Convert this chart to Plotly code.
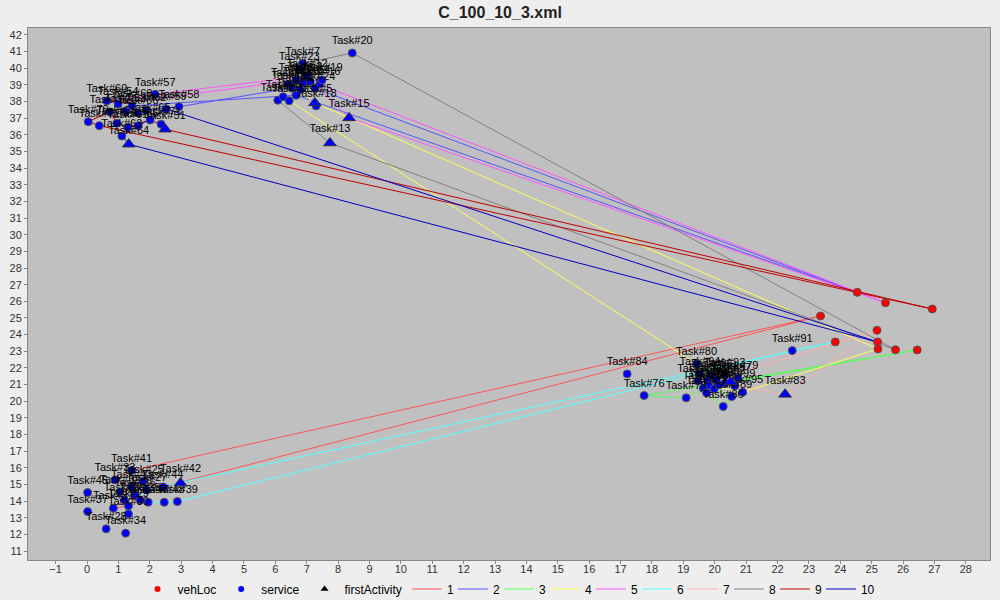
import plotly.graph_objects as go

# ---------------- data ----------------
task_ids = [20, 7, 23, 2, 12, 14, 10, 4, 8, 16, 19, 24, 17, 22, 1, 3, 9, 11, 18, 5, 15, 13,
            60, 57, 58, 59, 70, 72, 55, 53, 66, 61, 63, 56, 71, 64, 51, 52, 54, 62, 65, 68,
            41, 45, 33, 37, 28, 34, 26, 31, 29, 30, 35, 47, 48, 39, 42, 43, 25, 27, 32, 36, 44,
            91, 80, 84, 76, 78, 77, 81, 82, 85, 87, 88, 90, 92, 97, 89, 95, 86, 83, 96, 93, 79, 94, 98, 99]
task_x = [8.45, 6.87, 6.76, 6.94, 7.01, 7.10, 6.89, 6.41, 6.66, 7.42, 7.49, 7.26, 6.79, 6.53, 6.08, 6.25, 6.44, 6.66, 7.30, 7.26, 8.35, 7.74,
          0.63, 2.17, 2.93, 2.52, 0.04, 0.39, 0.95, 1.23, 1.62, 1.30, 1.11, 1.63, 2.36, 1.33, 2.49, 0.73, 0.99, 1.88, 2.01, 1.43,
          1.42, 0.02, 0.89, 0.02, 0.61, 1.23, 1.19, 0.84, 1.32, 1.32, 1.69, 1.95, 2.46, 2.88, 2.98, 1.42, 1.79, 1.90, 1.05, 1.53, 2.42,
          22.47, 19.42, 17.21, 17.75, 19.09, 19.46, 19.77, 19.82, 19.63, 19.74, 19.98, 20.13, 20.32, 20.51, 20.54, 20.89, 20.27, 22.24, 19.91, 20.32, 20.74, 19.53, 20.04, 20.64]
task_y = [40.92, 40.28, 40.00, 39.36, 39.54, 39.20, 39.10, 39.04, 39.30, 39.06, 39.30, 38.80, 38.70, 38.82, 38.08, 38.29, 38.05, 38.38, 37.74, 37.92, 37.02, 35.51,
          38.04, 38.44, 37.69, 37.56, 36.79, 36.55, 36.70, 37.42, 37.33, 36.46, 35.93, 36.55, 36.64, 35.44, 36.34, 37.38, 37.86, 37.50, 36.89, 37.74,
          15.83, 14.51, 15.27, 13.37, 12.33, 12.07, 14.07, 13.57, 13.71, 13.23, 14.07, 13.93, 13.93, 13.97, 15.08, 14.87, 15.17, 14.67, 14.55, 14.37, 14.85,
          23.04, 22.24, 21.64, 20.34, 20.20, 21.22, 21.24, 20.94, 20.78, 20.50, 20.74, 20.98, 21.08, 21.16, 20.28, 20.54, 19.68, 20.41, 21.52, 21.58, 21.40, 21.64, 21.28, 20.92]

# vehicle (depot) locations, vehicles 1..10
veh_x = [23.37, 24.54, 26.45, 25.20, 25.44, 23.84, 25.17, 25.76, 26.93, 25.19]
veh_y = [25.12, 26.54, 23.08, 23.14, 25.92, 23.56, 24.26, 23.09, 25.54, 23.56]

# tour of each vehicle (task ids in visiting order)
route_1 = [41, 33, 43, 32, 26, 31, 29, 30, 36, 25, 44]
route_2 = [24, 16, 19, 14, 10, 4, 22, 58, 62, 66, 53, 68, 11]
route_3 = [97, 92, 90, 88, 89, 86, 87, 85, 78, 76]
route_4 = [5, 18, 17, 8, 3, 80, 94, 77, 81, 82, 95]
route_5 = [15, 12, 57, 60, 54, 2]
route_6 = [42, 27, 35, 47, 48, 39, 91]
route_7 = [83, 99, 79, 93, 96, 98]
route_8 = [13, 1, 9, 23, 7, 20]
route_9 = [51, 71, 65, 61, 55, 52, 70, 72]
route_10 = [64, 63, 56, 59]
routes = [route_1, route_2, route_3, route_4, route_5, route_6, route_7, route_8, route_9, route_10]
route_names = ["1", "2", "3", "4", "5", "6", "7", "8", "9", "10"]

first_activity = [5, 15, 13, 64, 51, 97, 83, 42]

route_colors = ["#FF5555", "#5555FF", "#55FF55", "#FFFF55", "#FF55FF",
                "#55FFFF", "#FFAFAF", "#808080", "#C00000", "#0000C0"]

# ---------------- figure ----------------
FONT = "Liberation Sans, Arial, sans-serif"
pos = {tid: (x, y) for tid, x, y in zip(task_ids, task_x, task_y)}

fig = go.Figure()

for i, r in enumerate(routes):
    xs = [veh_x[i]] + [pos[t][0] for t in r] + [veh_x[i]]
    ys = [veh_y[i]] + [pos[t][1] for t in r] + [veh_y[i]]
    fig.add_trace(go.Scatter(x=xs, y=ys, mode="lines", name=route_names[i],
                             line=dict(color=route_colors[i], width=1),
                             legendrank=10 + i, legendwidth=(1 if i < 9 else 0),
                             hoverinfo="skip"))

svc_ids = [t for t in task_ids if t not in first_activity]
fig.add_trace(go.Scatter(
    x=[pos[t][0] for t in svc_ids], y=[pos[t][1] for t in svc_ids],
    mode="markers+text", name="service", showlegend=False,
    text=["Task#%d" % t for t in svc_ids], textposition="top center",
    textfont=dict(family=FONT, size=11, color="#000000"),
    marker=dict(color="#0000FF", size=8, line=dict(color="#555555", width=1))))

fig.add_trace(go.Scatter(
    x=veh_x, y=veh_y, mode="markers", name="vehLoc", showlegend=False,
    marker=dict(color="#FF0000", size=8, line=dict(color="#555555", width=1))))

fig.add_trace(go.Scatter(
    x=[pos[t][0] for t in first_activity], y=[pos[t][1] for t in first_activity],
    mode="markers+text", name="firstActivity", showlegend=False,
    text=["Task#%d" % t for t in first_activity], textposition="top center",
    textfont=dict(family=FONT, size=11, color="#000000"),
    marker=dict(color="#0000FF", symbol="triangle-up", size=11,
                line=dict(color="#333333", width=1))))

# compact legend-only entries for the point series
fig.add_trace(go.Scatter(x=[None], y=[None], mode="markers", name="vehLoc",
                         marker=dict(color="#FF0000", size=6), legendrank=1))
fig.add_trace(go.Scatter(x=[None], y=[None], mode="markers", name="service",
                         marker=dict(color="#0000FF", size=6), legendrank=2))
fig.add_trace(go.Scatter(x=[None], y=[None], mode="markers", name="firstActivity",
                         marker=dict(color="#000000", size=7, symbol="triangle-up"),
                         legendrank=3))

fig.update_layout(
    width=1000, height=600,
    margin=dict(l=28, r=10, t=28, b=40, autoexpand=False),
    paper_bgcolor="#EEEEEE", plot_bgcolor="#C0C0C0",
    font=dict(family=FONT, size=11, color="#333333"),
    title=dict(text="C_100_10_3.xml", x=0.5, xanchor="center", y=0.98, yanchor="middle",
               font=dict(family=FONT, size=16, color="#222222", weight="bold")),
    showlegend=True,
    legend=dict(orientation="h", x=0.5, xanchor="center", y=-0.0545, yanchor="middle",
                font=dict(family=FONT, size=12, color="#000000"),
                bgcolor="rgba(0,0,0,0)", itemwidth=30),
)
fig.update_xaxes(range=[-1.88, 28.77], tick0=0, dtick=1, showgrid=False, zeroline=False,
                 ticks="outside", ticklen=3, tickcolor="#888888", ticklabelstandoff=-4,
                 showline=True, linecolor="#888888", mirror=True,
                 tickfont=dict(family=FONT, size=11, color="#333333"))
fig.update_yaxes(range=[10.46, 42.42], tick0=0, dtick=1, showgrid=False, zeroline=False,
                 ticks="outside", ticklen=3, tickcolor="#888888",
                 showline=True, linecolor="#888888", mirror=True,
                 tickfont=dict(family=FONT, size=11, color="#333333"))

fig.write_html("out.html")
